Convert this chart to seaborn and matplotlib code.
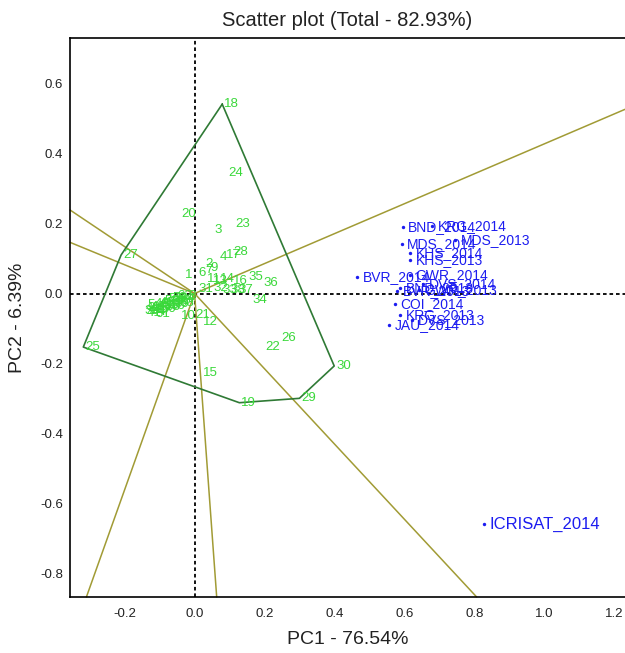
import numpy as np
import pandas as pd
import seaborn as sns
import matplotlib
matplotlib.use("Agg")
import matplotlib.pyplot as plt

sns.set_theme(style="white")
plt.rcParams['font.family'] = ['Liberation Sans', 'DejaVu Sans']
plt.rcParams['axes.unicode_minus'] = False

# genotype scores (PC1, PC2)
geno_labels = [
    "18", "24", "20", "3", "23", "27", "28", "4", "17", "2", "1", "6", "7", "9",
    "11", "13", "14", "16", "35", "36", "31", "32", "33", "38", "37", "34",
    "22", "26", "15", "12", "21", "10", "19", "29", "30", "25", "8",
    "5", "39", "40", "41", "42", "43", "44", "45", "46", "47", "48", "49", "50",
    "51", "52", "53", "54", "55", "56", "57", "58", "59", "60", "61", "62",
    "63", "64",
]
geno_pc1 = [
    0.079, 0.090, -0.043, 0.050, 0.110, -0.210, 0.104, 0.067, 0.084, 0.024,
    -0.033, 0.004, 0.024, 0.038, 0.030, 0.047, 0.067, 0.104, 0.147, 0.190,
    0.004, 0.047, 0.073, 0.096, 0.119, 0.159, 0.196, 0.241, 0.019, 0.018,
    -0.005, -0.045, 0.128, 0.2995, 0.399, -0.318, -0.025,
    -0.140, -0.150, -0.146, -0.142, -0.137, -0.132, -0.128, -0.123, -0.119,
    -0.114, -0.110, -0.105, -0.101, -0.097, -0.093, -0.089, -0.085, -0.080,
    -0.076, -0.072, -0.068, -0.063, -0.059, -0.118, -0.055, -0.050, -0.046,
]
geno_pc2 = [
    0.541, 0.345, 0.227, 0.181, 0.200, 0.110, 0.119, 0.104, 0.110, 0.084,
    0.053, 0.059, 0.067, 0.073, 0.041, 0.036, 0.041, 0.036, 0.047, 0.030,
    0.013, 0.016, 0.010, 0.010, 0.010, -0.019, -0.153, -0.128, -0.228, -0.080,
    -0.060, -0.065, -0.312, -0.2995, -0.207, -0.153, -0.007,
    -0.033, -0.050, -0.042, -0.055, -0.047, -0.038, -0.052, -0.044, -0.031,
    -0.049, -0.037, -0.026, -0.043, -0.032, -0.021, -0.039, -0.028, -0.017,
    -0.035, -0.024, -0.012, -0.030, -0.020, -0.058, -0.008, -0.026, -0.015,
]

# environment scores (PC1, PC2)
env_labels = [
    "BND_2014", "KRG_2014", "MDS_2013", "MDS_2014", "KHS_2014", "KHS_2013",
    "BVR_2014", "GWR_2014", "DVS_2014", "BVR_2013", "GWR_2013", "BND_2013",
    "COI_2014", "KRG_2013", "DVS_2013", "JAU_2014", "ICRISAT_2014",
]
env_pc1 = [0.595, 0.679, 0.744, 0.592, 0.616, 0.616, 0.465, 0.616, 0.653,
           0.578, 0.641, 0.587, 0.573, 0.587, 0.621, 0.557, 0.827]
env_pc2 = [0.191, 0.193, 0.153, 0.141, 0.115, 0.096, 0.047, 0.053, 0.027,
           0.006, 0.010, 0.016, -0.029, -0.061, -0.076, -0.089, -0.659]

# which-won-where polygon (convex hull genotypes, in order)
hull = ["18", "30", "29", "19", "25", "27"]

x_ticks = [-0.2, 0.0, 0.2, 0.4, 0.6, 0.8, 1.0, 1.2]
y_ticks = [-0.8, -0.6, -0.4, -0.2, 0.0, 0.2, 0.4, 0.6]

geno = pd.DataFrame({"label": geno_labels, "PC1": geno_pc1, "PC2": geno_pc2})
env = pd.DataFrame({"label": env_labels, "PC1": env_pc1, "PC2": env_pc2})

xlim = (-0.356, 1.23)
ylim = (-0.867, 0.73)

fig = plt.figure(figsize=(6.25, 6.53), dpi=100)
ax = fig.add_axes([0.112, 0.0858, 0.888, 0.856])
ax.set_xlim(*xlim)
ax.set_ylim(*ylim)

# rays from origin perpendicular to each polygon side
hp = geno.set_index("label").loc[hull, ["PC1", "PC2"]].to_numpy()
for i in range(len(hp)):
    a, b = hp[i], hp[(i + 1) % len(hp)]
    d = b - a
    t = -np.dot(a, d) / np.dot(d, d)
    foot = a + t * d
    ts = []
    if foot[0] != 0:
        ts.append((xlim[1] if foot[0] > 0 else xlim[0]) / foot[0])
    if foot[1] != 0:
        ts.append((ylim[1] if foot[1] > 0 else ylim[0]) / foot[1])
    end = foot * min(ts)
    ax.plot([0, end[0]], [0, end[1]], color="#a19b35", lw=1.1, zorder=2,
            clip_on=False)

closed = np.vstack([hp, hp[:1]])
ax.plot(closed[:, 0], closed[:, 1], color="#2f7a35", lw=1.2, zorder=3)

ax.axhline(0, color="black", lw=1.3, ls=(0, (2, 1.6)), zorder=1)
ax.axvline(0, color="black", lw=1.3, ls=(0, (2, 1.6)), zorder=1)

sns.scatterplot(data=env, x="PC1", y="PC2", ax=ax, color="#1c1cf0",
                s=6, marker="o", linewidth=0, zorder=4, legend=False)
for _, r in env.iterrows():
    size = 12 if r["label"] == "ICRISAT_2014" else 10
    ax.annotate(r["label"], (r["PC1"], r["PC2"]), xytext=(4, 0),
                textcoords="offset points", ha="left", va="center",
                fontsize=size, color="#1c1cf0", zorder=5)

for _, r in geno.iterrows():
    ax.annotate(r["label"], (r["PC1"], r["PC2"]), xytext=(1.5, 0),
                textcoords="offset points", ha="left", va="center",
                fontsize=9.5, color="#3ad83a", zorder=5)

ax.set_xticks(x_ticks)
ax.set_yticks(y_ticks)
ax.set_xticklabels([f"{v:.1f}" for v in x_ticks])
ax.set_yticklabels([f"{v:.1f}" for v in y_ticks])
ax.tick_params(length=0, labelsize=9.5, colors="#222222", pad=5)
ax.tick_params(axis="x", pad=8)

for side in ["left", "bottom", "top"]:
    ax.spines[side].set_color("black")
    ax.spines[side].set_linewidth(1.2)
ax.spines["right"].set_visible(False)

ax.set_title("Scatter plot (Total - 82.93%)", fontsize=14.5, color="#222222",
             pad=9)
ax.set_xlabel("PC1 - 76.54%", fontsize=14, color="#222222", labelpad=8)
ax.set_ylabel("PC2 - 6.39%", fontsize=14, color="#222222", labelpad=10)

fig.savefig("out.png", dpi=100)
